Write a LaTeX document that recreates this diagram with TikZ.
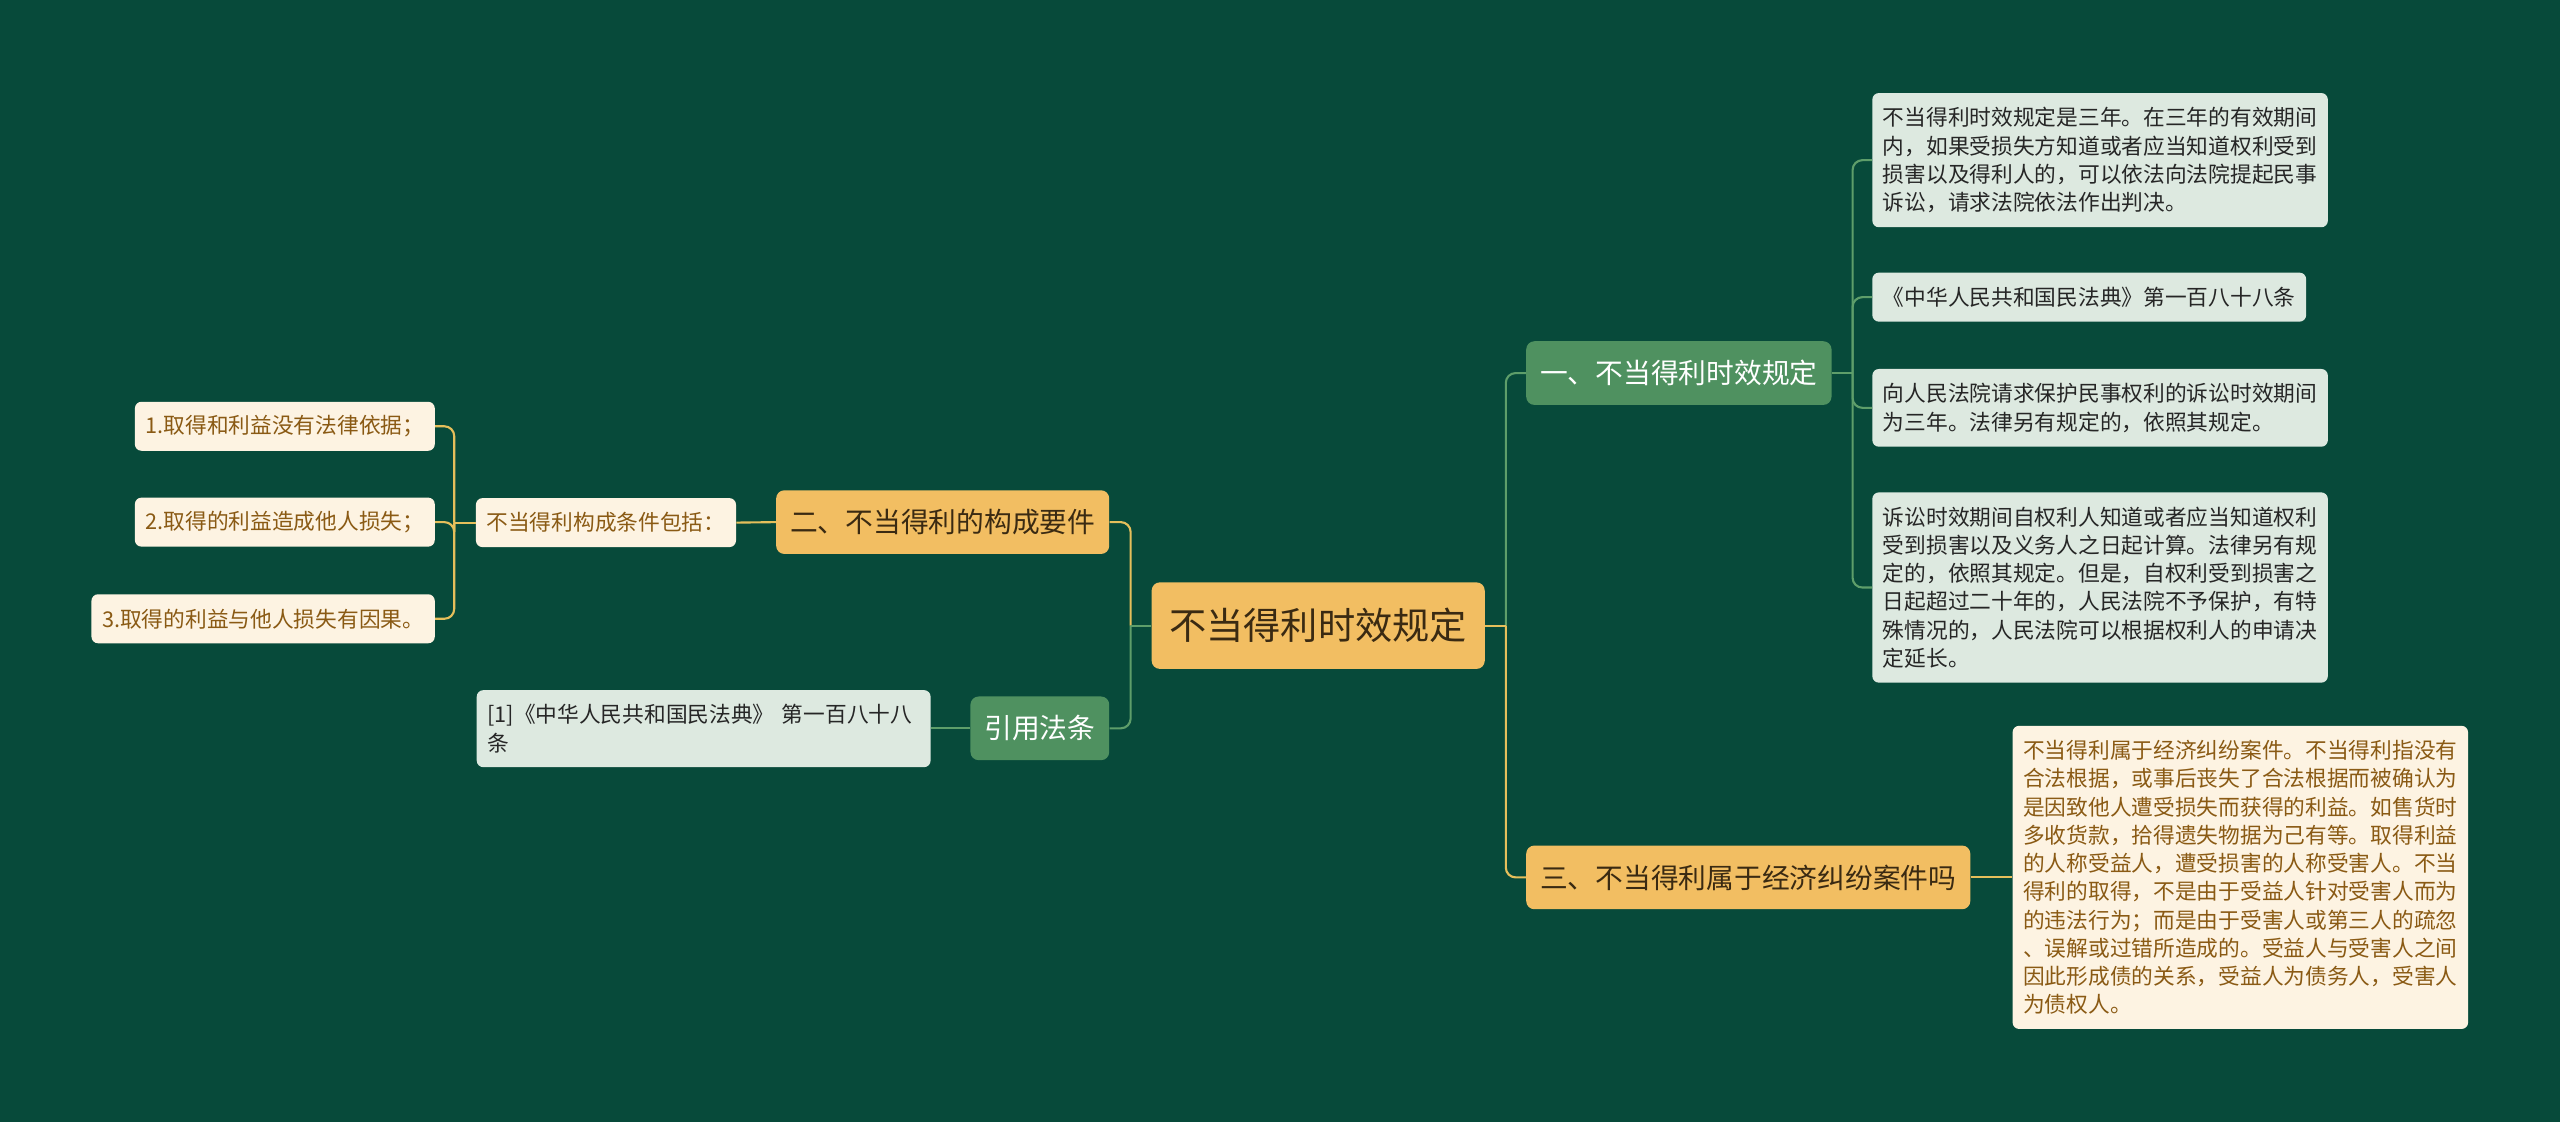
\documentclass[tikz,border=0pt]{standalone}
\usepackage{fontspec}
\setmainfont{Noto Sans CJK SC}
\usepackage{tikz}
\usetikzlibrary{calc}
\definecolor{bgdark}{HTML}{074A3A}
\definecolor{goldfill}{HTML}{F2BE62}
\definecolor{greenfill}{HTML}{4F9160}
\definecolor{palegreen}{HTML}{DDE9E0}
\definecolor{cream}{HTML}{FDF3E2}
\definecolor{browntext}{HTML}{8A5A14}
\definecolor{darktext}{HTML}{3A2A12}
\definecolor{leaftext}{HTML}{262626}
\definecolor{gline}{HTML}{5E9E6A}
\definecolor{yline}{HTML}{E5BF5B}

\begin{document}
\begin{tikzpicture}[x=1pt,y=-1pt]
\tikzstyle{rootbox}=[rectangle,rounded corners=5pt,fill=goldfill,text=darktext,font=\fontsize{22.8}{26}\selectfont,minimum width=204pt,minimum height=53pt,inner sep=0pt]
\tikzstyle{goldbox}=[rectangle,rounded corners=5pt,fill=goldfill,text=darktext,font=\fontsize{17}{20}\selectfont,minimum height=39pt,inner xsep=8.5pt,inner ysep=0pt]
\tikzstyle{greenbox}=[rectangle,rounded corners=5pt,fill=greenfill,text=white,font=\fontsize{17}{20}\selectfont,minimum height=39pt,inner xsep=8.5pt,inner ysep=0pt]
\tikzstyle{leafg}=[rectangle,rounded corners=4pt,fill=palegreen,text=leaftext,font=\fontsize{13.3}{17.3}\selectfont,align=left,minimum height=30pt,inner xsep=6.5pt,inner ysep=8.8pt]
\tikzstyle{leafy}=[rectangle,rounded corners=4pt,fill=cream,text=browntext,font=\fontsize{13.3}{17.3}\selectfont,align=left,minimum height=30pt,inner xsep=6.5pt,inner ysep=8.8pt]
\tikzstyle{glink}=[draw=gline,line width=1.3pt]
\tikzstyle{ylink}=[draw=yline,line width=1.3pt]
\fill [bgdark] (0,0) rectangle (1568,687);
\node [rootbox] (root) at (807.4,383.2) {不当得利时效规定};
\node [greenbox,anchor=west] (one) at (934.6,228.5) {一、不当得利时效规定};
\node [goldbox,anchor=west] (three) at (934.6,537.4) {三、不当得利属于经济纠纷案件吗};
\node [goldbox,anchor=east] (two) at (679.6,319.8) {二、不当得利的构成要件};
\node [greenbox,anchor=east] (cite) at (679.6,446.1) {引用法条};
\node [leafy,anchor=east,inner ysep=0pt] (cond) at (451,320.1) {不当得利构成条件包括：};
\node [leafy,anchor=east,inner ysep=0pt] (c1) at (266.5,261.1) {1.取得和利益没有法律依据；};
\node [leafy,anchor=east,inner ysep=0pt] (c2) at (266.5,319.8) {2.取得的利益造成他人损失；};
\node [leafy,anchor=east,inner ysep=0pt] (c3) at (266.5,379) {3.取得的利益与他人损失有因果。};
\node [leafg,anchor=west,text width=265pt] (law) at (291.8,446.3) {[1]《中华人民共和国民法典》 第一百八十八\\条};
\node [leafg,anchor=north west,text width=266pt] (ta) at (1146.6,56.8) {不当得利时效规定是三年。在三年的有效期间\\内，如果受损失方知道或者应当知道权利受到\\损害以及得利人的，可以依法向法院提起民事\\诉讼，请求法院依法作出判决。};
\node [leafg,anchor=north west,inner ysep=0pt] (tb) at (1146.6,166.8) {《中华人民共和国民法典》第一百八十八条};
\node [leafg,anchor=north west,text width=266pt] (tc) at (1146.6,225.8) {向人民法院请求保护民事权利的诉讼时效期间\\为三年。法律另有规定的，依照其规定。};
\node [leafg,anchor=north west,text width=266pt] (td) at (1146.6,301.4) {诉讼时效期间自权利人知道或者应当知道权利\\受到损害以及义务人之日起计算。法律另有规\\定的，依照其规定。但是，自权利受到损害之\\日起超过二十年的，人民法院不予保护，有特\\殊情况的，人民法院可以根据权利人的申请决\\定延长。};
\node [leafy,anchor=west,text width=266pt] (te) at (1232.5,537.4) {不当得利属于经济纠纷案件。不当得利指没有\\合法根据，或事后丧失了合法根据而被确认为\\是因致他人遭受损失而获得的利益。如售货时\\多收货款，拾得遗失物据为己有等。取得利益\\的人称受益人，遭受损害的人称受害人。不当\\得利的取得，不是由于受益人针对受害人而为\\的违法行为；而是由于受害人或第三人的疏忽\\、误解或过错所造成的。受益人与受害人之间\\因此形成债的关系，受益人为债务人，受害人\\为债权人。};
\coordinate (rr) at ($(root.east)+(12.7,0)$);
\coordinate (rl) at ($(root.west)+(-12.7,0)$);
\coordinate (ol) at ($(one.east)+(12.7,0)$);
\coordinate (cl) at ($(cond.west)+(-13.1,0)$);
\draw [glink,rounded corners=6pt] (rr) |- (one.west);
\draw [ylink] (root.east) -- (rr);
\draw [ylink,rounded corners=6pt] (rr) |- (three.west);
\draw [ylink,rounded corners=6pt] (rl) |- (two.east);
\draw [glink] (root.west) -- (rl);
\draw [glink,rounded corners=6pt] (rl) |- (cite.east);
\draw [ylink] (two.west) -- (cond.east);
\draw [glink] (cite.west) -- (cite.west -| law.east);
\draw [ylink] (cond.west) -- (cl);
\foreach \n in {c1,c2,c3}
  \draw [ylink,rounded corners=6pt] (cl) |- (\n.east);
\draw [glink] (one.east) -- (ol);
\foreach \n in {ta,tb,tc,td}
  \draw [glink,rounded corners=6pt] (ol) |- (\n.west);
\draw [ylink] (three.east) -- (three.east -| te.west);
\end{tikzpicture}
\end{document}
